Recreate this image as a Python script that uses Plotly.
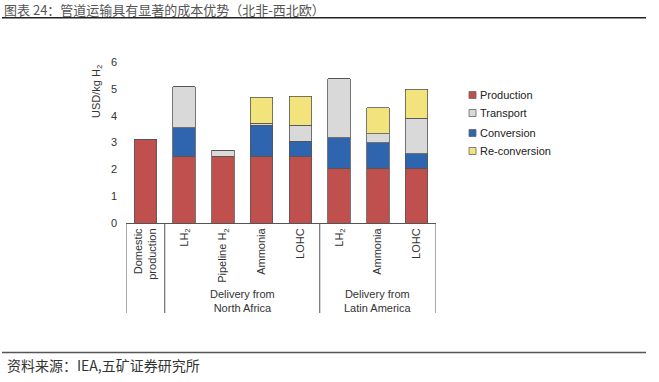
import plotly.graph_objects as go

categories = ["Domestic<br>production", "LH<sub>2</sub>", "Pipeline H<sub>2</sub>", "Ammonia", "LOHC",
              "LH<sub>2</sub>", "Ammonia", "LOHC"]
production = [3.10, 2.48, 2.48, 2.48, 2.48, 2.04, 2.04, 2.04]
conversion = [0, 1.07, 0, 1.16, 0.57, 1.14, 0.95, 0.55]
transport = [0, 1.53, 0.24, 0.08, 0.59, 2.20, 0.33, 1.32]
reconversion = [0, 0, 0, 0.96, 1.09, 0, 0.98, 1.08]
y_ticks = [0, 1, 2, 3, 4, 5, 6]
groups = ["Delivery from<br>North Africa", "Delivery from<br>Latin America"]

series = [
    ("Production", production, "#C0504D"),
    ("Conversion", conversion, "#2E65AE"),
    ("Transport", transport, "#D9D9D9"),
    ("Re-conversion", reconversion, "#F3E37C"),
]
legend_order = ["Production", "Transport", "Conversion", "Re-conversion"]
colors = {n: c for n, _, c in series}

W, H = 659, 382
L, R, T, B = 126, 223, 62, 159
pw, ph = W - L - R, H - T - B

def px(x):
    return (x - L) / pw

def py(y):
    return (H - B - y) / ph

xs = list(range(len(categories)))
fig = go.Figure()
for name, vals, col in series:
    fig.add_trace(go.Bar(
        x=xs, y=vals, name=name, marker=dict(color=col, line=dict(color="#555555", width=0.8)),
        width=0.58, showlegend=False))

fig.update_layout(
    barmode="stack", width=W, height=H, autosize=False,
    margin=dict(l=L, r=R, t=T, b=B),
    paper_bgcolor="white", plot_bgcolor="white",
    font=dict(family="Liberation Sans, Arial, sans-serif", size=11, color="#333333"),
    xaxis=dict(range=[-0.5, 7.5], tickvals=xs, ticktext=categories, tickangle=-90,
               showgrid=False, zeroline=False, showline=True, linecolor="#555555", linewidth=1,
               ticks="", tickfont=dict(size=11, color="#333333")),
    yaxis=dict(range=[0, 6], tickvals=y_ticks, showgrid=False, zeroline=False, showline=False,
               ticks="", ticklabelstandoff=8, tickfont=dict(size=11, color="#333333")),
)

ann = []
shapes = []
# y-axis title
ann.append(dict(x=px(97), y=py(92), xref="paper", yref="paper", text="USD/kg H<sub>2</sub>",
                textangle=-90, xanchor="center", yanchor="middle", showarrow=False,
                font=dict(size=11, color="#333333")))
# group labels
for xc, g in zip([2.5, 6.0], groups):
    ann.append(dict(x=xc, y=py(300.5), xref="x", yref="paper", text=g, showarrow=False,
                    xanchor="center", yanchor="middle", font=dict(size=11, color="#333333")))
# category separators
for xv in [-0.5, 0.5, 4.5, 7.5]:
    shapes.append(dict(type="line", xref="x", yref="paper", x0=xv, x1=xv, y0=0, y1=py(313),
                       line=dict(color="#555555", width=1)))
# legend (manual)
leg_y = [95, 113, 133, 151]
for name, yy in zip(legend_order, leg_y):
    shapes.append(dict(type="rect", xref="paper", yref="paper",
                       x0=px(469), x1=px(476), y0=py(yy + 3.5), y1=py(yy - 3.5),
                       fillcolor=colors[name], line=dict(color="#666666", width=0.8)))
    ann.append(dict(x=px(478), y=py(yy), xref="paper", yref="paper", text=name, xanchor="left",
                    yanchor="middle", showarrow=False, font=dict(size=11, color="#222222")))
# header and footer
ann.append(dict(x=px(2), y=py(9.5), xref="paper", yref="paper",
                text="图表 24：管道运输具有显著的成本优势（北非-西北欧）", xanchor="left", yanchor="middle",
                showarrow=False, font=dict(family="Noto Sans CJK SC", size=13, color="#555555")))
shapes.append(dict(type="line", xref="paper", yref="paper", x0=px(2), x1=px(646), y0=py(17.7), y1=py(17.7),
                   line=dict(color="#222222", width=1.5)))
shapes.append(dict(type="line", xref="paper", yref="paper", x0=px(2), x1=px(646), y0=py(352.5), y1=py(352.5),
                   line=dict(color="#555555", width=1.5)))
ann.append(dict(x=px(5), y=py(365), xref="paper", yref="paper",
                text="资料来源：IEA,五矿证券研究所", xanchor="left", yanchor="middle",
                showarrow=False, font=dict(family="Noto Sans CJK SC", size=14, color="#333333")))

fig.update_layout(annotations=ann, shapes=shapes)
fig.write_html("out.html", config={"displayModeBar": False},
               post_script="document.body.style.margin='0';document.body.style.padding='0';")
